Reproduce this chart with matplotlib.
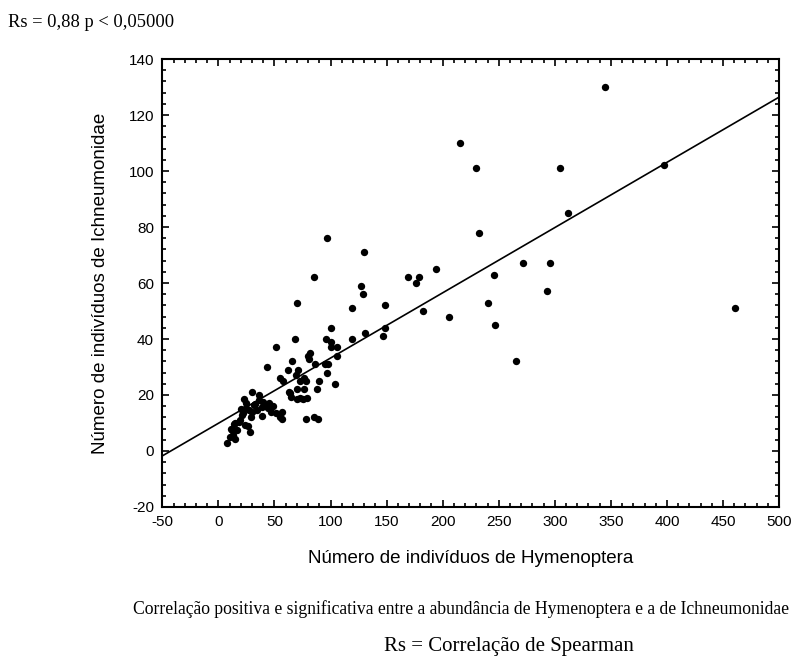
import numpy as np
import matplotlib.pyplot as plt
from matplotlib.ticker import MultipleLocator

plt.rcParams['axes.unicode_minus'] = False

# abundance (Hymenoptera, Ichneumonidae)
hymenoptera = [345, 215, 230, 305, 397, 312, 232, 97, 130, 169, 179, 176, 194, 272,
               296, 246, 293, 240, 182, 206, 247, 461, 265, 85, 127, 129, 149, 149,
               147, 131, 119, 70, 119, 100, 68, 96, 100, 100, 106, 51, 106, 82, 80,
               81, 86, 95, 98, 97, 66, 43, 62, 71, 69, 55, 58, 76, 73, 78, 90, 104,
               70, 76, 88, 64, 65, 73, 63, 70, 75, 79, 30, 36, 23, 40, 33, 42, 49,
               25, 30, 22, 39, 51, 57, 57, 55, 78, 85, 89, 15, 24, 28, 12, 13, 15,
               8, 11, 17, 26, 18, 39, 34, 45, 47, 21, 27, 36, 44, 32, 20, 29, 19,
               14, 10, 25]
ichneumonidae = [130, 110, 101, 101, 102, 85, 78, 76, 71, 62, 62, 60, 65, 67,
                 67, 63, 57, 53, 50, 48, 45, 51, 32, 62, 59, 56, 52, 44,
                 41, 42, 51, 53, 40, 44, 40, 40, 39, 37, 37, 37, 34, 35, 34,
                 33, 31, 31, 31, 28, 32, 30, 29, 29, 27, 26, 25, 26, 25, 25, 25, 24,
                 22, 22, 22, 20.6, 19.4, 18.8, 21, 18.5, 18.5, 19, 21, 20, 18.6, 17.6, 16.8, 16, 16,
                 15.2, 13.8, 13.5, 12.6, 13.5, 13.8, 11.4, 12.3, 11.3, 12.3, 11.3, 9.9, 9.3, 6.9, 7.5, 5.7, 4.2,
                 3, 8, 7.5, 9, 10.5, 15.8, 14.5, 17, 14, 12.9, 14.6, 18.2, 15.5, 16.5, 15, 12,
                 11, 9.5, 5, 17]

# fitted line as drawn in the figure
line_intercept = 9.9
line_slope = 0.233

xticks = np.arange(-50, 501, 50)
yticks = np.arange(-20, 141, 20)

fig = plt.figure(figsize=(7.95, 6.58), dpi=100)
ax = fig.add_axes([0.2042, 0.2295, 0.7758, 0.6808])

ax.scatter(hymenoptera, ichneumonidae, s=28, color='black', zorder=3, linewidths=0)
lx = np.array([-50, 500])
ax.plot(lx, line_intercept + line_slope * lx, color='black', lw=1.2)

ax.set_xlim(-50, 500)
ax.set_ylim(-20, 140)
ax.set_xticks(xticks)
ax.set_yticks(yticks)
ax.xaxis.set_minor_locator(MultipleLocator(10))
ax.yaxis.set_minor_locator(MultipleLocator(4))
ax.tick_params(which='both', direction='in', top=True, right=True, width=1.2,
               labelsize=11)
ax.tick_params(which='major', length=5, pad=6)
ax.tick_params(which='minor', length=3)
for lbl in ax.get_xticklabels() + ax.get_yticklabels():
    lbl.set_family('Liberation Sans')
for s in ax.spines.values():
    s.set_linewidth(1.5)

ax.set_xlabel('Número de indivíduos de Hymenoptera', family='Liberation Sans',
              fontsize=13.5, labelpad=15)
ax.set_ylabel('Número de indivíduos de Ichneumonidae', family='Liberation Sans',
              fontsize=13.5, labelpad=14)

fig.text(0.01, 0.966, 'Rs = 0,88 p < 0,05000', family='Liberation Serif',
         fontsize=13.3, va='center')
fig.text(0.58, 0.074, 'Correlação positiva e significativa entre a abundância de '
         'Hymenoptera e a de Ichneumonidae', family='Liberation Serif',
         fontsize=12.7, ha='center', va='center')
fig.text(0.64, 0.017, 'Rs = Correlação de Spearman', family='Liberation Serif',
         fontsize=15, ha='center', va='center')

fig.savefig('out.png', dpi=100)
